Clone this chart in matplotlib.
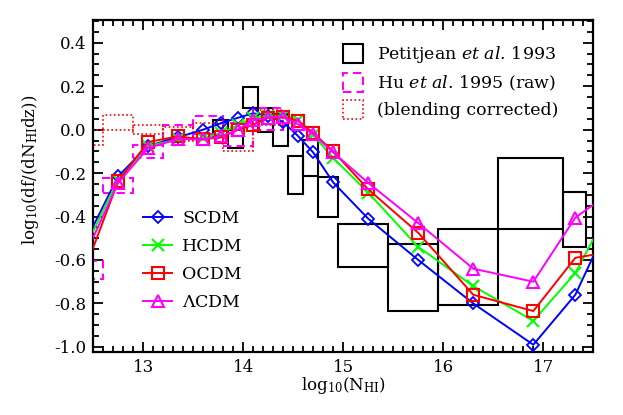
import numpy as np
import matplotlib
matplotlib.use('Agg')
import matplotlib.pyplot as plt
from matplotlib.patches import Patch
from matplotlib.lines import Line2D

plt.rcParams['font.family'] = ['DejaVu Serif']
plt.rcParams['mathtext.fontset'] = 'dejavuserif'
plt.rcParams['axes.unicode_minus'] = False

# model curves (log N_HI bin centres)
logN = [12.3, 12.75, 13.05, 13.35, 13.6, 13.78, 13.95, 14.1, 14.25, 14.4,
        14.55, 14.7, 14.9, 15.25, 15.75, 16.3, 16.9, 17.32, 17.7]
scdm = [-0.63, -0.215, -0.075, -0.035, 0.0, 0.03, 0.055, 0.075, 0.065, 0.035,
        -0.03, -0.105, -0.243, -0.41, -0.6, -0.8, -0.99, -0.76, -0.385]
hcdm = [-0.66, -0.23, -0.075, -0.045, -0.04, -0.015, 0.02, 0.055, 0.065, 0.065,
        0.045, -0.025, -0.13, -0.29, -0.54, -0.72, -0.88, -0.66, -0.33]
ocdm = [-0.79, -0.238, -0.057, -0.031, -0.045, -0.035, 0.0, 0.023, 0.055, 0.058,
        0.04, -0.015, -0.1, -0.275, -0.475, -0.76, -0.835, -0.59, -0.56]
lcdm = [-0.70, -0.245, -0.085, -0.043, -0.045, -0.03, 0.0, 0.045, 0.055, 0.06,
        0.025, -0.02, -0.105, -0.245, -0.43, -0.64, -0.7, -0.405, -0.28]

# Petitjean et al. 1993 boxes: bin edges and error range
pj_lo = [13.7, 13.85, 14.0, 14.15, 14.3, 14.45, 14.6, 14.75, 14.95, 15.45, 15.95, 16.55, 17.2]
pj_hi = [13.85, 14.0, 14.15, 14.3, 14.45, 14.6, 14.75, 14.95, 15.45, 15.95, 16.55, 17.2, 17.43]
pj_ylo = [-0.03, -0.085, 0.10, -0.013, -0.074, -0.295, -0.215, -0.402, -0.63, -0.833, -0.806, -0.457, -0.538]
pj_yhi = [0.043, 0.0, 0.197, 0.10, 0.07, -0.123, -0.046, -0.22, -0.433, -0.525, -0.457, -0.13, -0.287]

# Hu et al. 1995 raw
hu_lo = [12.3, 12.6, 12.9, 13.2, 13.5, 13.8, 14.1]
hu_ylo = [-0.687, -0.292, -0.13, -0.045, -0.02, -0.077, 0.0]
hu_yhi = [-0.604, -0.223, -0.07, 0.02, 0.065, 0.03, 0.10]

# Hu et al. 1995 blending corrected
bc_lo = [12.3, 12.6, 12.9, 13.2, 13.5, 13.8, 14.1]
bc_ylo = [-0.069, 0.0, -0.02, -0.05, -0.04, -0.1, 0.02]
bc_yhi = [0.0, 0.069, 0.023, 0.01, 0.03, 0.01, 0.09]

fig = plt.figure(figsize=(6.23, 4.15), dpi=100)
ax = fig.add_axes([0.1494, 0.151, 0.803, 0.801])

pj_w = np.array(pj_hi) - np.array(pj_lo)
ax.bar(pj_lo, np.array(pj_yhi) - np.array(pj_ylo), width=pj_w, bottom=pj_ylo, align='edge',
       fill=False, edgecolor='black', linewidth=1.5, zorder=2)
ax.bar(hu_lo, np.array(hu_yhi) - np.array(hu_ylo), width=0.3, bottom=hu_ylo, align='edge',
       fill=False, edgecolor='#ff00ff', linewidth=1.5, linestyle=(0, (4, 2.5)), zorder=2)
ax.bar(bc_lo, np.array(bc_yhi) - np.array(bc_ylo), width=0.3, bottom=bc_ylo, align='edge',
       fill=False, edgecolor='#ff0000', linewidth=1.2, linestyle=(0, (1, 1.5)), zorder=2)

ax.plot(logN, scdm, color='#0000ff', lw=1.4, marker='D', ms=6, mfc='none', mew=1.3, zorder=3)
ax.plot(logN, hcdm, color='#00ff00', lw=1.4, marker='x', ms=8, mew=1.5, zorder=3)
ax.plot(logN, ocdm, color='#ff0000', lw=1.4, marker='s', ms=8, mfc='none', mew=1.5, zorder=3)
ax.plot(logN, lcdm, color='#ff00ff', lw=1.4, marker='^', ms=9, mfc='none', mew=1.5, zorder=3)

ax.set_xlim(12.5, 17.5)
ax.set_ylim(-1.025, 0.505)
ax.set_xticks([13, 14, 15, 16, 17])
ax.set_xticks(np.arange(12.5, 17.51, 0.1), minor=True)
ax.set_yticks([-1.0, -0.8, -0.6, -0.4, -0.2, 0.0, 0.2, 0.4])
ax.set_yticks(np.arange(-1.0, 0.51, 0.05), minor=True)
ax.set_yticklabels(['-1.0', '-0.8', '-0.6', '-0.4', '-0.2', '0.0', '0.2', '0.4'])
ax.tick_params(which='both', direction='in', top=True, right=True, width=1.3, labelsize=12)
ax.tick_params(which='major', length=7, pad=5)
ax.tick_params(which='minor', length=4)
for s in ax.spines.values():
    s.set_linewidth(1.6)

ax.set_xlabel(r'log$_{\mathrm{10}}$(N$_{\mathrm{HI}}$)', fontsize=12, labelpad=-1)
ax.set_ylabel(r'log$_{\mathrm{10}}$(df/(dN$_{\mathrm{HI}}$dz))', fontsize=12)
ax.yaxis.set_label_coords(-0.105, 0.55)

h1 = [Patch(fill=False, edgecolor='black', linewidth=1.5),
      Patch(fill=False, edgecolor='#ff00ff', linewidth=1.5, linestyle=(0, (4, 2.5))),
      Patch(fill=False, edgecolor='#ff0000', linewidth=1.2, linestyle=(0, (1, 1.5)))]
l1 = ax.legend(h1, [r'Petitjean $et\ al$. 1993', r'Hu $et\ al$. 1995 (raw)', '(blending corrected)'],
               loc='upper left', frameon=False, fontsize=12.5, handlelength=1.15, handleheight=1.3,
               labelspacing=0.42, handletextpad=0.8, borderpad=0, borderaxespad=0,
               bbox_to_anchor=(0.499, 0.927))
ax.add_artist(l1)

h2 = [Line2D([], [], color='#0000ff', lw=1.4, marker='D', ms=6, mfc='none', mew=1.3),
      Line2D([], [], color='#00ff00', lw=1.4, marker='x', ms=8, mew=1.5),
      Line2D([], [], color='#ff0000', lw=1.4, marker='s', ms=8, mfc='none', mew=1.5),
      Line2D([], [], color='#ff00ff', lw=1.4, marker='^', ms=9, mfc='none', mew=1.5)]
ax.legend(h2, ['SCDM', 'HCDM', 'OCDM', r'$\Lambda$CDM'], loc='upper left', frameon=False,
          fontsize=12.5, handlelength=1.72, labelspacing=0.63, handletextpad=0.57,
          borderpad=0, borderaxespad=0, bbox_to_anchor=(0.099, 0.428))

fig.savefig('out.png', dpi=100)
